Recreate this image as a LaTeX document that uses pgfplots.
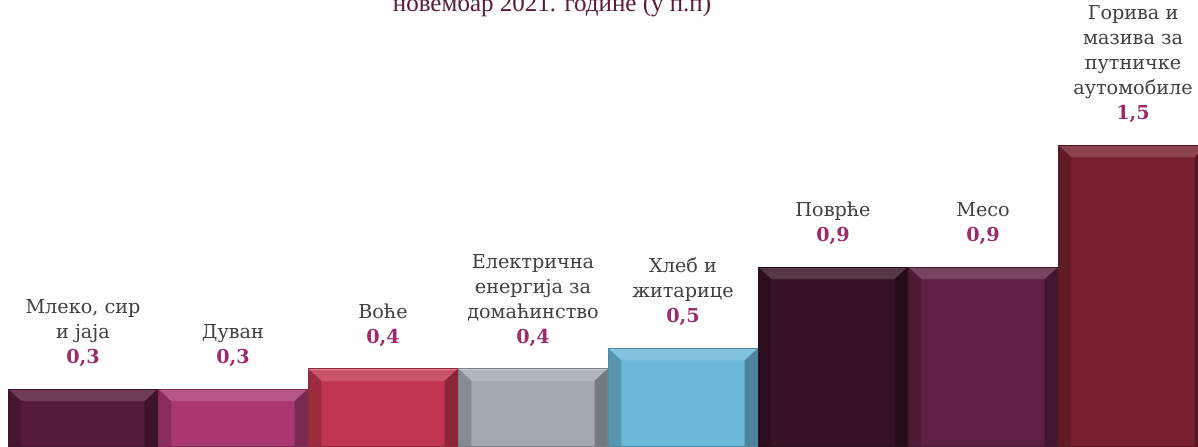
\documentclass[border=0pt]{standalone}
\usepackage{pgfplots}
\pgfplotsset{compat=1.18}
\usepackage{fontspec}
\setmainfont{DejaVu Serif}
\newfontfamily\titlefont{Liberation Serif}
\definecolor{c1}{HTML}{561A3A}
\definecolor{c2}{HTML}{A8386F}
\definecolor{c3}{HTML}{C0354F}
\definecolor{c4}{HTML}{A2AAB2}
\definecolor{c5}{HTML}{6BB8D8}
\definecolor{c6}{HTML}{361226}
\definecolor{c7}{HTML}{5E2042}
\definecolor{c8}{HTML}{762030}
\definecolor{valc}{HTML}{9B2B6A}
\definecolor{labc}{HTML}{404040}
\definecolor{titc}{HTML}{5A1A3A}
\tikzset{lab/.style={anchor=south, yshift=11pt, align=center, inner sep=0pt,
    font=\fontsize{9.6}{12.5}\selectfont, text=labc},
  bevel/.style={path picture={
    \fill[path picture={}, draw=none, white, opacity=0.16] (path picture bounding box.north west) -- (path picture bounding box.north east)
      -- ([xshift=-6.5pt,yshift=-6pt]path picture bounding box.north east) -- ([xshift=6.5pt,yshift=-6pt]path picture bounding box.north west) -- cycle;
    \fill[path picture={}, draw=none, black, opacity=0.18] (path picture bounding box.north west) -- ([xshift=6.5pt,yshift=-6pt]path picture bounding box.north west)
      -- ([xshift=6.5pt]path picture bounding box.south west) -- (path picture bounding box.south west) -- cycle;
    \fill[path picture={}, draw=none, black, opacity=0.28] (path picture bounding box.north east) -- ([xshift=-6.5pt,yshift=-6pt]path picture bounding box.north east)
      -- ([xshift=-6.5pt]path picture bounding box.south east) -- (path picture bounding box.south east) -- cycle;
    \draw[path picture={}, fill=none, white, opacity=0.3, line width=1pt] (path picture bounding box.north west) -- (path picture bounding box.north east);
  }}}
\begin{document}
\begin{tikzpicture}
\begin{axis}[
  scale only axis, width=599pt, height=223pt,
  xmin=-0.553, xmax=7.433, ymin=0.02, ymax=2.214,
  hide axis, clip=false,
  ybar, bar width=0.995, bar shift=0pt,
]
\addplot[fill=c1, draw=c1!75!black, bevel] coordinates {(0,0.3)};
\addplot[fill=c2, draw=c2!75!black, bevel] coordinates {(1,0.3)};
\addplot[fill=c3, draw=c3!75!black, bevel] coordinates {(2,0.4)};
\addplot[fill=c4, draw=c4!75!black, bevel] coordinates {(3,0.4)};
\addplot[fill=c5, draw=c5!75!black, bevel] coordinates {(4,0.5)};
\addplot[fill=c6, draw=c6!75!black, bevel] coordinates {(5,0.9)};
\addplot[fill=c7, draw=c7!75!black, bevel] coordinates {(6,0.9)};
\addplot[fill=c8, draw=c8!75!black, bevel] coordinates {(7,1.5)};
\node[lab] at (axis cs:0,0.3) {Млеко, сир\\и јаја\\{\color{valc}\bfseries 0,3}};
\node[lab] at (axis cs:1,0.3) {Дуван\\{\color{valc}\bfseries 0,3}};
\node[lab] at (axis cs:2,0.4) {Воће\\{\color{valc}\bfseries 0,4}};
\node[lab] at (axis cs:3,0.4) {Електрична\\енергија за\\домаћинство\\{\color{valc}\bfseries 0,4}};
\node[lab] at (axis cs:4,0.5) {Хлеб и\\житарице\\{\color{valc}\bfseries 0,5}};
\node[lab] at (axis cs:5,0.9) {Поврће\\{\color{valc}\bfseries 0,9}};
\node[lab] at (axis cs:6,0.9) {Месо\\{\color{valc}\bfseries 0,9}};
\node[lab] at (axis cs:7,1.5) {Горива и\\мазива за\\путничке\\аутомобиле\\{\color{valc}\bfseries 1,5}};
\node[anchor=base, font=\titlefont\fontsize{12.5}{15}\selectfont, text=titc] at (axis cs:3.127,2.158) {новембар 2021. године (у п.п)};
\coordinate (bl) at (rel axis cs:0,0);
\coordinate (tr) at (rel axis cs:1,1);
\end{axis}
\pgfresetboundingbox
\path[use as bounding box] (bl) rectangle (tr);
\end{tikzpicture}
\end{document}
